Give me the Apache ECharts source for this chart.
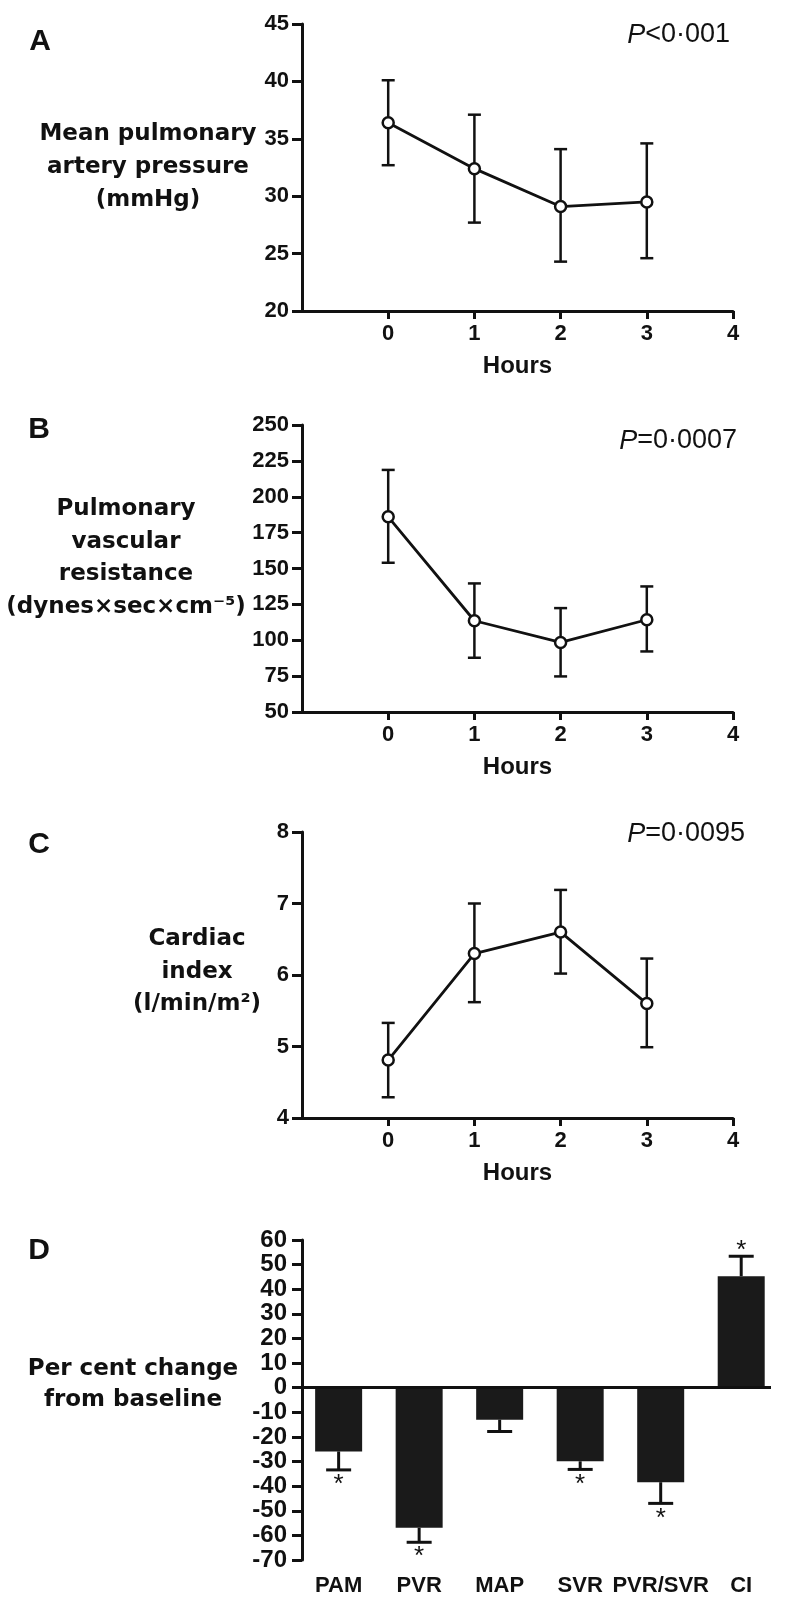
<!DOCTYPE html>
<html>
<head>
<meta charset="utf-8">
<script src="https://cdn.jsdelivr.net/npm/echarts@6/dist/echarts.min.js"></script>
<style>
html,body{margin:0;padding:0;background:#fff;}
#chart{width:800px;height:1620px;}
</style>
</head>
<body>
<div id="chart"></div>
<script>
// ---------- DATA ----------
var hours = [0, 1, 2, 3];
var hourTicks = [0, 1, 2, 3, 4];

var mpapMean = [36.4, 32.4, 29.1, 29.5];
var mpapLow  = [32.7, 27.7, 24.3, 24.6];
var mpapHigh = [40.1, 37.1, 34.1, 34.6];

var pvrMean = [186, 113.6, 98.5, 114.3];
var pvrLow  = [154, 87.8, 74.8, 92.2];
var pvrHigh = [218.7, 139.6, 122.4, 137.5];

var ciMean = [4.81, 6.30, 6.60, 5.60];
var ciLow  = [4.29, 5.62, 6.02, 4.99];
var ciHigh = [5.33, 7.00, 7.19, 6.23];

var changeCats = ['PAM', 'PVR', 'MAP', 'SVR', 'PVR/SVR', 'CI'];
var changeVals = [-25.9, -56.9, -13.0, -29.9, -38.4, 45.3];
var changeErr  = [-33.4, -62.8, -17.8, -33.2, -47.0, 53.4];
var changeSig  = [1, 1, 0, 1, 1, 1];

var pTexts = ['<0·001', '=0·0007', '=0·0095'];
var yNames = [
  'Mean pulmonary\nartery pressure\n(mmHg)',
  'Pulmonary\nvascular\nresistance\n(dynes×sec×cm⁻⁵)',
  'Cardiac\nindex\n(l/min/m²)',
  'Per cent change\nfrom baseline'
];
var panelLetters = ['A', 'B', 'C', 'D'];

// ---------- STYLE ----------
var BLACK = '#111';
var LAB = 'Liberation Sans, Arial, sans-serif';
var NAMEF = 'DejaVu Sans, sans-serif';

var grids = [
  {left: 302, top: 24, width: 431, height: 287},
  {left: 302, top: 425, width: 431, height: 287},
  {left: 302, top: 832, width: 431, height: 286},
  {left: 302, top: 1240, width: 469, height: 320}
];
var yCfg = [
  {min: 20, max: 45, interval: 5},
  {min: 50, max: 250, interval: 25},
  {min: 4, max: 8, interval: 1},
  {min: -70, max: 60, interval: 10}
];

function lineXAxis(gi) {
  return {
    gridIndex: gi, type: 'value', min: -1, max: 4,
    axisLine: {show: true, onZero: false, lineStyle: {color: BLACK, width: 3}},
    axisTick: {show: true, length: 8, lineStyle: {color: BLACK, width: 3}, customValues: hourTicks},
    axisLabel: {show: true, margin: 12, color: BLACK, fontFamily: LAB, fontWeight: 'bold', fontSize: 22, customValues: hourTicks},
    splitLine: {show: false},
    name: 'Hours', nameLocation: 'middle', nameGap: 43,
    nameTextStyle: {color: BLACK, fontFamily: LAB, fontWeight: 'bold', fontSize: 24}
  };
}
function yAxisCfg(gi, fs, mg) {
  var c = yCfg[gi];
  return {
    gridIndex: gi, type: 'value', min: c.min, max: c.max, interval: c.interval,
    axisLine: {show: true, onZero: false, lineStyle: {color: BLACK, width: 3}},
    axisTick: {show: true, length: 10, lineStyle: {color: BLACK, width: 3}},
    axisLabel: {show: true, margin: mg, color: BLACK, fontFamily: LAB, fontWeight: 'bold', fontSize: fs},
    splitLine: {show: false}
  };
}

function errRender(params, api) {
  var x = api.value(0), lo = api.value(1), hi = api.value(2);
  var a = api.coord([x, lo]), b = api.coord([x, hi]);
  var hw = 6.5;
  var st = {stroke: BLACK, lineWidth: 2.5};
  return {type: 'group', children: [
    {type: 'line', shape: {x1: a[0], y1: a[1], x2: b[0], y2: b[1]}, style: st},
    {type: 'line', shape: {x1: a[0] - hw, y1: a[1], x2: a[0] + hw, y2: a[1]}, style: st},
    {type: 'line', shape: {x1: b[0] - hw, y1: b[1], x2: b[0] + hw, y2: b[1]}, style: st}
  ]};
}

function barErrRender(params, api) {
  var x = api.value(0), v = api.value(1), e = api.value(2), s = api.value(3);
  var a = api.coord([x, v]), b = api.coord([x, e]);
  var hw = 12.5;
  var st = {stroke: BLACK, lineWidth: 3};
  var ch = [
    {type: 'line', shape: {x1: a[0], y1: a[1], x2: b[0], y2: b[1]}, style: st},
    {type: 'line', shape: {x1: b[0] - hw, y1: b[1], x2: b[0] + hw, y2: b[1]}, style: st}
  ];
  if (s) {
    var down = e < 0;
    ch.push({type: 'text', x: b[0], y: b[1] + (down ? 15 : -5),
      style: {text: '*', fill: BLACK, font: '26px ' + LAB, align: 'center', verticalAlign: 'middle'}});
  }
  return {type: 'group', children: ch};
}

var lineSets = [
  [mpapMean, mpapLow, mpapHigh],
  [pvrMean, pvrLow, pvrHigh],
  [ciMean, ciLow, ciHigh]
];

var series = [];
lineSets.forEach(function (set, gi) {
  series.push({
    type: 'custom', xAxisIndex: gi, yAxisIndex: gi, z: 1,
    renderItem: errRender,
    encode: {x: 0, y: [1, 2]},
    data: hours.map(function (h, i) { return [h, set[1][i], set[2][i]]; })
  });
  series.push({
    type: 'line', xAxisIndex: gi, yAxisIndex: gi, z: 3,
    data: hours.map(function (h, i) { return [h, set[0][i]]; }),
    symbol: 'circle', symbolSize: 11,
    lineStyle: {color: BLACK, width: 2.8},
    itemStyle: {color: '#fff', borderColor: BLACK, borderWidth: 2.5},
    animation: false
  });
});

series.push({
  type: 'bar', xAxisIndex: 3, yAxisIndex: 3, barWidth: 47, z: 2,
  data: changeVals.map(function (v, i) { return [i, v]; }),
  itemStyle: {color: '#1a1a1a'},
  markLine: {
    silent: true, symbol: 'none', animation: false,
    label: {show: false},
    lineStyle: {color: BLACK, width: 3, type: 'solid'},
    data: [{yAxis: 0}]
  },
  animation: false
});
series.push({
  type: 'custom', xAxisIndex: 3, yAxisIndex: 3, z: 3,
  renderItem: barErrRender,
  encode: {x: 0, y: [1, 2]},
  data: changeVals.map(function (v, i) { return [i, v, changeErr[i], changeSig[i]]; })
});

var xAxes = [lineXAxis(0), lineXAxis(1), lineXAxis(2), {
  gridIndex: 3, type: 'value', min: -0.455, max: 5.37,
  axisLine: {show: false, onZero: false},
  axisTick: {show: false},
  axisLabel: {show: true, margin: 15, color: BLACK, fontFamily: LAB, fontWeight: 'bold', fontSize: 22,
    customValues: changeCats.map(function (c, i) { return i; }),
    formatter: function (v) { return changeCats[Math.round(v)] || ''; }},
  splitLine: {show: false}
}];
var yAxes = [yAxisCfg(0, 22, 13), yAxisCfg(1, 22, 13), yAxisCfg(2, 22, 13), yAxisCfg(3, 24, 15)];

// ---------- TEXT ----------
var letterPos = [[40, 42], [39, 430], [39, 845], [39, 1251]];
var pPos = [[730, 35], [737, 441], [745, 834]];
var namePos = [[148, 167, 33], [126, 558, 32.5], [197, 972, 32.5], [133, 1385, 31]];

var graphics = [];
panelLetters.forEach(function (L, i) {
  graphics.push({type: 'text', x: letterPos[i][0], y: letterPos[i][1],
    style: {text: L, fill: BLACK, font: 'bold 30px ' + LAB, align: 'center', verticalAlign: 'middle'}});
});
pTexts.forEach(function (t, i) {
  graphics.push({type: 'text', x: pPos[i][0], y: pPos[i][1],
    style: {text: '{i|P}{n|' + t + '}', align: 'right', verticalAlign: 'middle', fill: BLACK,
      rich: {
        i: {fontFamily: LAB, fontSize: 27, fontStyle: 'italic', fill: BLACK},
        n: {fontFamily: LAB, fontSize: 27, fill: BLACK}
      }}});
});
yNames.forEach(function (t, i) {
  graphics.push({type: 'text', x: namePos[i][0], y: namePos[i][1],
    style: {text: t, fill: BLACK, font: 'bold 23px ' + NAMEF, align: 'center', verticalAlign: 'middle',
      lineHeight: namePos[i][2]}});
});

var chart = echarts.init(document.getElementById('chart'), null, {renderer: 'canvas'});
chart.setOption({
  animation: false,
  backgroundColor: '#fff',
  grid: grids,
  xAxis: xAxes,
  yAxis: yAxes,
  series: series,
  graphic: graphics
});
</script>
</body>
</html>
